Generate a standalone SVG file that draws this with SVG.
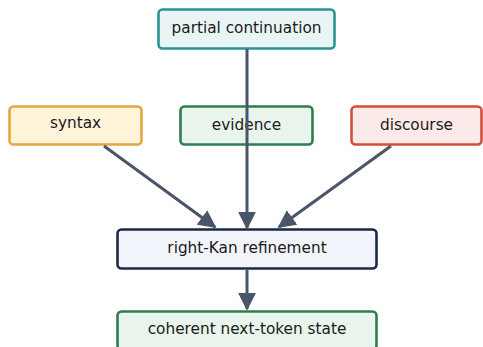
<svg xmlns="http://www.w3.org/2000/svg" width="483" height="347" viewBox="0 0 483 347">
<style>
.box{stroke-width:2.6}
.lbl{font-family:"DejaVu Sans","Liberation Sans",sans-serif;font-size:15.3px;fill:#1a1a1a;text-anchor:middle;dominant-baseline:central}
.edge{stroke:#4a5568;stroke-width:3;fill:none;marker-end:url(#ah)}
</style>
<defs>
<marker id="ah" viewBox="0 0 10 10" refX="9" refY="5" markerWidth="6" markerHeight="6" orient="auto" markerUnits="strokeWidth">
<path d="M0,0 L10,5 L0,10 z" fill="#4a5568"/>
</marker>
</defs>
<rect width="483" height="347" fill="#ffffff"/>
<g id="partial">
<rect class="box" x="158.5" y="9.5" width="176" height="39" rx="4" fill="#e9f5f5" stroke="#2a9494"/>
<text class="lbl" x="246.5" y="28">partial continuation</text>
</g>
<g id="syntax">
<rect class="box" x="9.5" y="106.5" width="132" height="38" rx="4" fill="#fff3d9" stroke="#e2a83e"/>
<text class="lbl" x="75.5" y="123">syntax</text>
</g>
<g id="evidence">
<rect class="box" x="180.5" y="106.5" width="132" height="38" rx="4" fill="#e9f5ec" stroke="#2e7d4f"/>
<text class="lbl" x="246.5" y="125">evidence</text>
</g>
<g id="discourse">
<rect class="box" x="351.5" y="106.5" width="130" height="38" rx="4" fill="#fbeae8" stroke="#d14f3c"/>
<text class="lbl" x="416.5" y="125">discourse</text>
</g>
<g id="rightkan">
<rect class="box" x="117.5" y="229.5" width="259" height="39" rx="4" fill="#f1f5fb" stroke="#1a2a44"/>
<text class="lbl" x="247" y="248">right-Kan refinement</text>
</g>
<g id="coherent">
<rect class="box" x="117.5" y="311.5" width="259" height="38" rx="4" fill="#e9f5ec" stroke="#2e7d4f"/>
<text class="lbl" x="247" y="329">coherent next-token state</text>
</g>
<g id="connectors">
<line class="edge" x1="247" y1="49" x2="247" y2="228"/>
<line class="edge" x1="104" y1="146" x2="215" y2="227"/>
<line class="edge" x1="391" y1="146" x2="279" y2="227"/>
<line class="edge" x1="247" y1="270" x2="247" y2="309"/>
</g>
</svg>
